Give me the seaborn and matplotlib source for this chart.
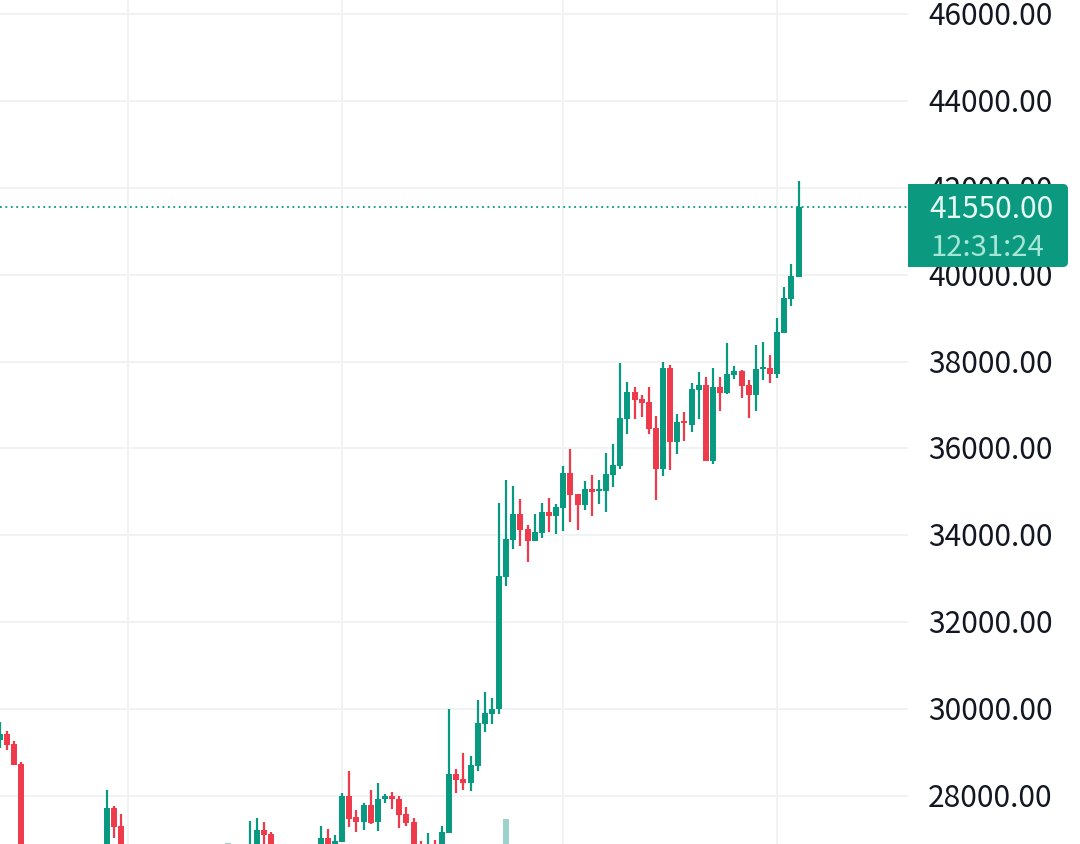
import matplotlib
matplotlib.use("Agg")
import matplotlib.pyplot as plt
from matplotlib.patches import FancyBboxPatch, Rectangle
from matplotlib.transforms import ScaledTranslation
import pandas as pd
import seaborn as sns

# candles (26700 = somewhere under the bottom edge)
bar_idx = [0, 1, 2, 3, 15, 16, 17, 35, 36, 37, 38, 45, 46, 47] + list(range(48, 113))
opens = [29289, 29427, 29197, 28737, 26700, 27724, 27309, 26700, 26700, 27217, 27125, 26700, 27033, 26700,
         26948, 28000, 27517, 27401, 27793, 27401, 27942, 28000, 27931, 27586, 27401, 26800, 26700, 26800, 26700,
         27148, 28506, 28391, 28299, 28691, 29657, 29888,
         30003, 33041, 33893, 34492, 34146, 33870, 34054, 34538, 34446, 34630, 35435, 34952, 34699, 35067, 35032, 35021, 35389,
         35597, 36679, 37300, 37139, 37070, 36471, 35527, 37853, 36149, 36633, 36541, 37346, 37461, 35711, 37415, 37277, 37691,
         37784, 37461, 37231, 37830, 37853, 37714, 38667, 39441, 39947]
highs = [29704, 29503, 29266, 28783, 28138, 27770, 27586, 27425, 27494, 27401, 27171, 27309, 27240, 27102,
         28069, 28575, 27678, 27839, 28138, 28299, 28046, 28092, 28000, 27747, 27494, 26964, 27148, 26987, 27309,
         30003, 28621, 28990, 28921, 30210, 30394, 30256,
         34745, 35274, 35136, 34837, 34238, 34492, 34745, 34860, 34722, 35597, 35988, 34952, 35251, 35389, 35274, 35896, 36103,
         37968, 37530, 37415, 37231, 37415, 36748, 37991, 37922, 36794, 36840, 37507, 37760, 37645, 37853, 37645, 38426, 37899,
         37806, 37576, 38380, 38449, 38150, 39004, 39717, 40247, 42157]
lows = [29105, 29059, 28714, 26700, 26700, 27033, 26700, 26700, 26700, 26700, 26700, 26700, 26700, 26700,
        26948, 27286, 27171, 27217, 27355, 27194, 27839, 27700, 27263, 27309, 26700, 26700, 26700, 26700, 26700,
        27148, 28069, 28138, 28115, 28575, 29473, 29657,
        29888, 32834, 33686, 33755, 33387, 33870, 33939, 34077, 34031, 34100, 34307, 34123, 34584, 34446, 34722, 34538, 35113,
        35527, 36333, 36679, 36725, 36333, 34814, 35366, 35504, 35873, 36172, 36379, 36679, 35711, 35643, 36863, 37254, 37599,
        37162, 36702, 36863, 37576, 37507, 37622, 38667, 39280, 39947]
closes = [29427, 29174, 28714, 26700, 27724, 27293, 26700, 26800, 27217, 27102, 26700, 27033, 26700, 26964,
          28000, 27470, 27401, 27793, 27378, 27931, 28000, 27942, 27563, 27378, 26700, 26700, 26800, 26700, 27171,
          28506, 28368, 28299, 28714, 29680, 29911, 30003,
          33064, 33916, 34492, 34123, 33870, 34077, 34538, 34446, 34653, 35435, 34929, 34699, 35067, 34998, 35067, 35412, 35620,
          36702, 37300, 37116, 37047, 36448, 35527, 37853, 36149, 36610, 36587, 37369, 37461, 35711, 37415, 37277, 37714, 37784,
          37438, 37231, 37830, 37876, 37714, 38690, 39464, 39970, 41550]

# the volume pane is almost entirely cut off at the bottom
vol_idx = [32, 71]
vol_vals = [0.12, 2.9]

price_ticks = [28000, 30000, 32000, 34000, 36000, 38000, 40000, 42000, 44000, 46000]
time_ticks = [18, 48, 79, 109]
last_price = "41550.00"
countdown = "12:31:24"

GREEN = "#089981"
RED = "#ee3a4b"
palette = {"up": GREEN, "down": RED}

sns.set_theme(style="white")
plt.rcParams["font.family"] = ["Noto Sans CJK SC", "DejaVu Sans"]

wick_rows = []
body_rows = []
for i, o, h, l, c in zip(bar_idx, opens, highs, lows, closes):
    d = "up" if c >= o else "down"
    wick_rows += [(i, l, d), (i, h, d)]
    body_rows += [(i, o, d), (i, c, d)]
wicks = pd.DataFrame(wick_rows, columns=["idx", "price", "dir"])
bodies = pd.DataFrame(body_rows, columns=["idx", "price", "dir"])

fig = plt.figure(figsize=(10.8, 8.45), dpi=100)
ax = fig.add_axes([0, 0, 908 / 1080, 1])

vol_ax = ax.twinx()
vol_df = pd.DataFrame({"idx": vol_idx * 2, "vol": [0, 0] + vol_vals})
sns.lineplot(data=vol_df, x="idx", y="vol", units="idx", estimator=None, sort=False,
             color="#9bd3cb", linewidth=4.3, solid_capstyle="butt", ax=vol_ax)
vol_ax.set_ylim(0, 100)
vol_ax.axis("off")

ax.set_zorder(vol_ax.get_zorder() + 1)
ax.patch.set_visible(False)
vol_ax.patch.set_visible(True)
vol_ax.patch.set_facecolor("white")

sns.lineplot(data=wicks, x="idx", y="price", units="idx", estimator=None, sort=False, hue="dir",
             palette=palette, linewidth=1.6, solid_capstyle="butt", legend=False, ax=ax)
sns.lineplot(data=bodies, x="idx", y="price", units="idx", estimator=None, sort=False, hue="dir",
             palette=palette, linewidth=4.3, solid_capstyle="butt", legend=False, ax=ax)

ax.axhline(41550, color=GREEN, linewidth=1.3, linestyle=(0, (1, 2)), zorder=3)

ax.set_xlim(0, 127.35)
vol_ax.set_xlim(0, 127.35)
ax.set_ylim(26895, 46347)
ax.set_xticks(time_ticks)
ax.set_yticks(price_ticks)
ax.set_yticklabels([f"{p:.2f}" for p in price_ticks])
ax.yaxis.tick_right()
ax.tick_params(axis="y", length=0, pad=14.5, labelsize=21.5, labelcolor="#131722", labelright=True)
ax.tick_params(axis="x", length=0, labelbottom=False)
ax.set_xlabel("")
ax.set_ylabel("")
ax.grid(True, color="#f1f2f4", linewidth=1.4)
ax.set_axisbelow(True)
sns.despine(ax=ax, left=True, right=True, top=True, bottom=True)

# labels sit a touch above their grid lines
nudge = ScaledTranslation(0, 2 / 100, fig.dpi_scale_trans)
for label in ax.get_yticklabels(which="major"):
    label.set_transform(label.get_transform() + nudge)

# last price tag over the axis labels, in pixel coordinates
tag_ax = fig.add_axes([0, 0, 1, 1], zorder=10)
tag_ax.set_xlim(0, 1080)
tag_ax.set_ylim(845, 0)
tag_ax.axis("off")
tag_ax.add_patch(FancyBboxPatch((914, 189), 150, 75, boxstyle="round,pad=4,rounding_size=5", fc="#0b9a80", ec="none"))
tag_ax.add_patch(Rectangle((908, 185), 12, 83, fc="#0b9a80", ec="none"))
tag_ax.text(929, 209, last_price, color="#e6faf4", fontsize=21.5, va="center", ha="left")
tag_ax.text(930, 248, countdown, color="#a6e6d6", fontsize=21, va="center", ha="left")

fig.savefig("out.png", dpi=100)
